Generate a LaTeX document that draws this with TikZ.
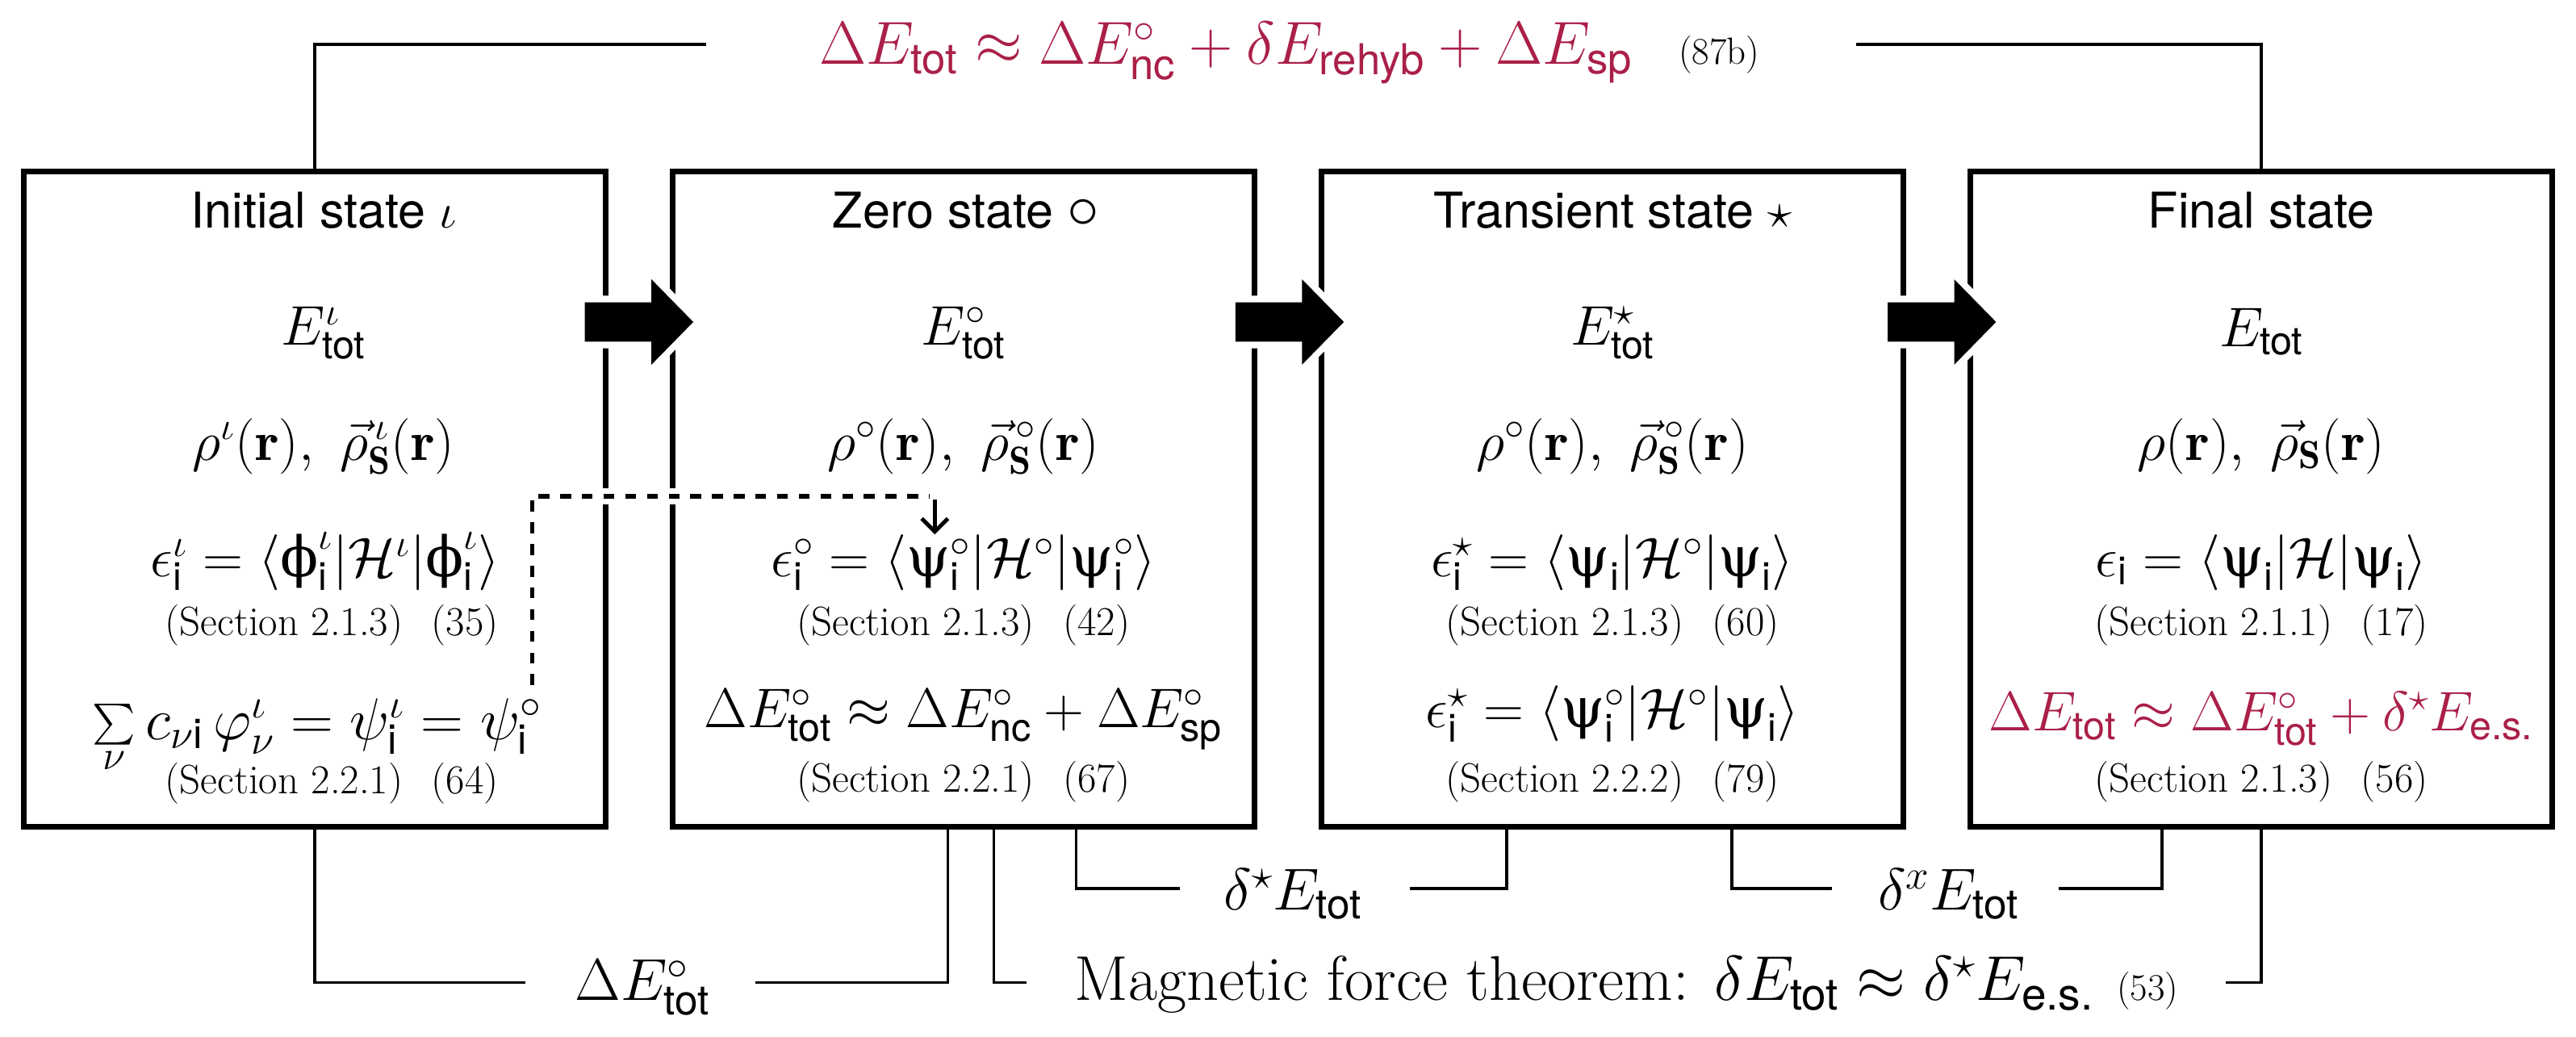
\RequirePackage{fix-cm}
\documentclass[tikz,border=0pt]{standalone}
\usepackage{amsmath}
\usepackage{fontspec}
\setsansfont{TeX Gyre Heros}
\newfontfamily\grkfont{DejaVu Serif}
\usetikzlibrary{arrows.meta}
\definecolor{crim}{RGB}{170,32,72}
\newcommand{\ts}[1]{\textsf{#1}}
\newcommand{\Upsi}{\text{\grkfont ψ}}
\newcommand{\Uphi}{\text{\grkfont ϕ}}
\newcommand{\secl}[2]{(Section #1)\hspace{0.7em}(#2)}
\begin{document}
\begin{tikzpicture}[x=1pt,y=-1pt,
  box/.style={draw, line width=3.4pt, minimum width=354pt, minimum height=399pt, inner sep=0pt, outer sep=0pt},
  ttl/.style={anchor=base, inner sep=0pt, font=\sffamily\fontsize{30}{36}\selectfont},
  mth/.style={anchor=base, inner sep=0pt, font=\fontsize{34}{40}\selectfont},
  sec/.style={anchor=base, inner sep=0pt, font=\fontsize{25}{30}\selectfont},
  lab/.style={anchor=base, inner sep=0pt, font=\fontsize{36}{42}\selectfont},
  conn/.style={line width=1.8pt},
  blockarrow/.style={fill=black, preaction={draw=white, line width=8pt, line join=miter}},
  halo/.style={draw=white, line width=10pt},
  dsh/.style={line width=2.8pt, dash pattern=on 6.6pt off 6.6pt}
]
\useasboundingbox (0,0) rectangle (1568,631);

% boxes
\node[box] (b1) at (191.5,303.7) {};
\node[box] (b2) at (586.5,303.7) {};
\node[box] (b3) at (981.5,303.7) {};
\node[box] (b4) at (1376.5,303.7) {};

% block arrows between states
\coordinate (a1) at (356,196);
\coordinate (a2) at (752,196);
\coordinate (a3) at (1149,196);
\foreach \c in {a1,a2,a3}
  \fill[blockarrow] (\c) ++(0,-12) -- ++(40.5,0) -- ++(0,-14) -- ++(25.5,26)
     -- ++(-25.5,26) -- ++(0,-14) -- ++(-40.5,0) -- cycle;

% dashed link psi
\coordinate (d0) at (324,417);
\coordinate (d1) at (566,302);
\coordinate (d2) at (569,304);
\draw[halo] (d0) |- (d1);
\draw[dsh] (d0) |- (d1);

% top formula
\node[lab, font=\fontsize{37}{44}\selectfont] (top) at (785,39.3)
  {{\color{crim}$\Delta E_{\ts{tot}} \approx \Delta E^{\circ}_{\ts{nc}} + \delta E_{\ts{rehyb}} + \Delta E_{\ts{sp}}$}\hspace{28pt}{\fontsize{23}{28}\selectfont (87b)}};
\coordinate (tL) at (430,27);
\coordinate (tR) at (1130,27);
\draw[conn] (b1.north) |- (tL);
\draw[conn] (b4.north) |- (tR);

% bottom connectors
\coordinate (cB1) at (320,598);
\coordinate (cB2) at (460,598);
\coordinate (cB3) at (625,598);
\coordinate (cB4) at (1355,598);
\coordinate (cA1) at (718,541);
\coordinate (cA2) at (858,541);
\coordinate (cA3) at (1115,541);
\coordinate (cA4) at (1253,541);
\draw[conn] (b1.south) |- (cB1);
\draw[conn] ([xshift=-9.5pt]b2.south) |- (cB2);
\draw[conn] ([xshift=18.5pt]b2.south) |- (cB3);
\draw[conn] (b4.south) |- (cB4);
\draw[conn] ([xshift=68.5pt]b2.south) |- (cA1);
\draw[conn] ([xshift=-64.5pt]b3.south) |- (cA2);
\draw[conn] ([xshift=72.5pt]b3.south) |- (cA3);
\draw[conn] ([xshift=-60.5pt]b4.south) |- (cA4);

\node[lab] (lB1) at (391,609) {$\Delta E^{\circ}_{\ts{tot}}$};
\node[lab, font=\fontsize{38.5}{44}\selectfont] (lB2) at (990,609) {Magnetic force theorem: $\delta E_{\ts{tot}} \approx \delta^{\star} E_{\ts{e.s.}}$\hspace{14pt}{\fontsize{23}{28}\selectfont(53)}};
\node[lab] (lA1) at (787,554) {$\delta^{\star} E_{\ts{tot}}$};
\node[lab] (lA2) at (1186,554) {$\delta^{x} E_{\ts{tot}}$};

% box 1
\node[ttl] (t1) at (197,139) {Initial state $\iota$};
\node[mth] (e1) at (197,210) {$E^{\iota}_{\ts{tot}}$};
\node[mth] (r1) at (197,280) {$\rho^{\iota}(\mathbf{r}),\ \vec{\rho}{}^{\,\iota}_{\mathbf{S}}(\mathbf{r})$};
\node[mth] (q1) at (198,351) {$\epsilon^{\iota}_{\ts{i}} = \langle \Uphi^{\iota}_{\ts{i}} | \mathcal{H}^{\iota} | \Uphi^{\iota}_{\ts{i}} \rangle$};
\node[sec] (s1) at (202,387) {\secl{2.1.3}{35}};
\node[mth, font=\fontsize{36}{42}\selectfont] (f1) at (193,450) {$\sum\limits_{\nu} c_{\nu\ts{i}}\,\varphi^{\iota}_{\nu} = \psi^{\iota}_{\ts{i}} = \psi^{\circ}_{\ts{i}}$};
\node[sec] (g1) at (202,483) {\secl{2.2.1}{64}};

% box 2
\node[ttl] (t2) at (588,139) {Zero state \scalebox{1.3}{$\circ$}};
\node[mth] (e2) at (586.5,210) {$E^{\circ}_{\ts{tot}}$};
\node[mth] (r2) at (586.5,280) {$\rho^{\circ}(\mathbf{r}),\ \vec{\rho}{}^{\,\circ}_{\mathbf{S}}(\mathbf{r})$};
\node[mth] (q2) at (586.5,351) {$\epsilon^{\circ}_{\ts{i}} = \langle \Upsi^{\circ}_{\ts{i}} | \mathcal{H}^{\circ} | \Upsi^{\circ}_{\ts{i}} \rangle$};
\node[sec] (s2) at (586.5,387) {\secl{2.1.3}{42}};
\node[mth] (f2) at (586.5,443) {$\Delta E^{\circ}_{\ts{tot}} \approx \Delta E^{\circ}_{\ts{nc}} + \Delta E^{\circ}_{\ts{sp}}$};
\node[sec] (g2) at (586.5,482) {\secl{2.2.1}{67}};

% box 3
\node[ttl] (t3) at (981.5,139) {Transient state $\star$};
\node[mth] (e3) at (981.5,210) {$E^{\star}_{\ts{tot}}$};
\node[mth] (r3) at (981.5,280) {$\rho^{\circ}(\mathbf{r}),\ \vec{\rho}{}^{\,\circ}_{\mathbf{S}}(\mathbf{r})$};
\node[mth] (q3) at (981.5,351) {$\epsilon^{\star}_{\ts{i}} = \langle \Upsi_{\ts{i}} | \mathcal{H}^{\circ} | \Upsi_{\ts{i}} \rangle$};
\node[sec] (s3) at (981.5,387) {\secl{2.1.3}{60}};
\node[mth] (f3) at (981.5,443) {$\epsilon^{\star}_{\ts{i}} = \langle \Upsi^{\circ}_{\ts{i}} | \mathcal{H}^{\circ} | \Upsi_{\ts{i}} \rangle$};
\node[sec] (g3) at (981.5,482) {\secl{2.2.2}{79}};

% box 4
\node[ttl] (t4) at (1376.5,139) {Final state};
\node[mth] (e4) at (1376.5,211) {$E_{\ts{tot}}$};
\node[mth] (r4) at (1376.5,280) {$\rho(\mathbf{r}),\ \vec{\rho}{}_{\mathbf{S}}(\mathbf{r})$};
\node[mth] (q4) at (1376.5,351) {$\epsilon_{\ts{i}} = \langle \Upsi_{\ts{i}} | \mathcal{H} | \Upsi_{\ts{i}} \rangle$};
\node[sec] (s4) at (1376.5,387) {\secl{2.1.1}{17}};
\node[mth, text=crim] (f4) at (1376.5,445) {$\Delta E_{\ts{tot}} \approx \Delta E^{\circ}_{\ts{tot}} + \delta^{\star} E_{\ts{e.s.}}$};
\node[sec] (g4) at (1376.5,482) {\secl{2.1.3}{56}};

% dashed arrow head into zero state
\draw[line width=2.4pt, -{Straight Barb[length=8pt,width=16pt]}] (d2) -- (d2 |- q2.north);
\end{tikzpicture}
\end{document}
